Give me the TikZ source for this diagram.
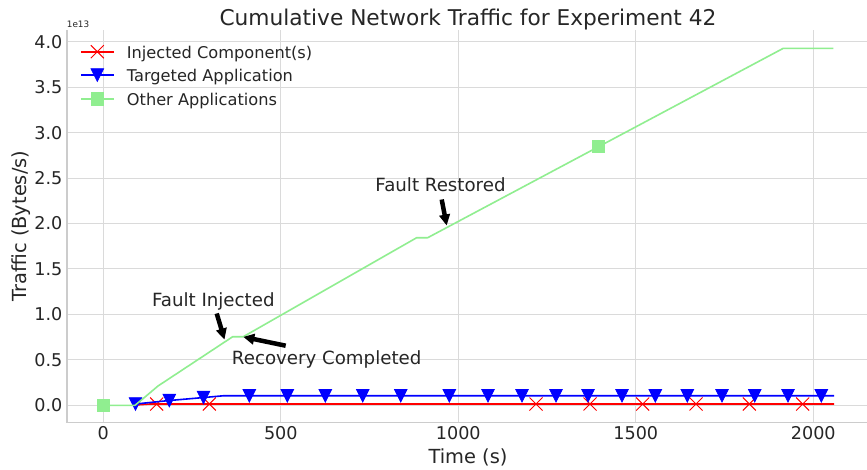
\documentclass[tikz,border=0pt]{standalone}
\usepackage{fontspec}
\setmainfont{DejaVu Sans}
\usetikzlibrary{arrows.meta}
\definecolor{txt}{HTML}{262626}
\definecolor{gridc}{HTML}{DADADA}
\definecolor{spinec}{HTML}{CCCCCC}
\definecolor{lgreen}{HTML}{90EE90}
\tikzset{
  gridline/.style={draw=gridc, line width=1pt},
  spineline/.style={draw=spinec, line width=1.3pt},
  ticklab/.style={text=txt, inner sep=0pt, font=\fontsize{17.6}{20}\selectfont},
  leglab/.style={text=txt, inner sep=0pt, anchor=base west, font=\fontsize{16.2}{19}\selectfont},
  annlab/.style={text=txt, inner sep=0pt, anchor=base, font=\fontsize{18.2}{21}\selectfont},
  axlab/.style={text=txt, inner sep=0pt, anchor=base, font=\fontsize{19.4}{23}\selectfont},
  titlelab/.style={text=txt, inner sep=0pt, anchor=base, font=\fontsize{21.7}{26}\selectfont},
  redline/.style={draw=red, line width=1.6pt, line join=round},
  blueline/.style={draw=blue, line width=1.6pt, line join=round},
  greenline/.style={draw=lgreen, line width=1.6pt, line join=round},
  annarrow/.style={draw=black, line width=4.5pt, -{Triangle[length=11pt,width=10.5pt]}},
  trimark/.pic={\filldraw[blue, line width=0.8pt, line join=miter] (-6.3,-6.3) -- (6.3,-6.3) -- (0,6.3) -- cycle;},
  xmark/.pic={\draw[red, line width=1pt] (-6.5,-6.5) -- (6.5,6.5) (-6.5,6.5) -- (6.5,-6.5);},
  sqmark/.pic={\filldraw[draw=lgreen, fill=lgreen, line width=0.8pt] (-6.2,-6.2) rectangle (6.2,6.2);}
}
\begin{document}
\begin{tikzpicture}[x=1pt,y=-1pt]
\useasboundingbox (0,0) rectangle (867,469);
\fill[white] (0,0) rectangle (867,469);
% grid
\foreach \gx in {103.3,280.8,458.3,635.8,813.3}
  \draw[gridline] (\gx,30) -- (\gx,422.3);
\foreach \gy in {405.3,359.85,314.4,268.95,223.5,178.05,132.6,87.15,41.7}
  \draw[gridline] (67,\gy) -- (867,\gy);
% spines
\draw[spineline] (67,30) -- (67,422.3) -- (867,422.3);
% y tick labels
\foreach \lab/\gy [count=\i] in {0.0/405.3,0.5/359.85,1.0/314.4,1.5/268.95,2.0/223.5,2.5/178.05,3.0/132.6,3.5/87.15,4.0/41.7}
  \node[ticklab, anchor=east] (yt\i) at (62.5,\gy) {\lab};
% x tick labels
\foreach \lab/\gx [count=\i] in {0/103.3,500/280.8,1000/458.3,1500/635.8,2000/813.3}
  \node[ticklab, anchor=north] (xt\i) at (\gx,426.7) {\lab};
% offset text
\node[text=txt, inner sep=0pt, anchor=base west, font=\fontsize{8.85}{10}\selectfont] (offs) at (66.7,27.3) {1e13};
% title and labels
\node[titlelab] (title) at (468,25) {Cumulative Network Traffic for Experiment 42};
\node[axlab] (xlabel) at (468,463) {Time (s)};
\node[axlab, rotate=90] (ylabel) at (26,226) {Traffic (Bytes/s)};
% red series
\draw[redline] (135.5,405) -- (150,404) -- (834,404);
\foreach \mx in {156.7,209.3,536,590,642.7,696,749.3,802.7}
  \pic at (\mx,404) {xmark};
% blue series
\draw[blueline] (135.5,404) -- (169.3,400.5) -- (204,397.5) -- (224,395.7) -- (834,395.7);
\pic at (135.5,404) {trimark};
\pic at (169.3,400.5) {trimark};
\pic at (203.5,397.5) {trimark};
\foreach \mx in {249.3,287.3,325.3,362.7,400.7,449.3,488,522,556,588,622,655.3,687.3,722,754.7,788,821.3}
  \pic at (\mx,395.7) {trimark};
% green series
\draw[greenline] (103.3,405.3) -- (135,405.3) -- (145,397) -- (158,386) -- (232.7,336.7) -- (243.3,336.7) -- (416.7,237.7) -- (427.7,237.7) -- (783.3,48.3) -- (833.3,48.3);
\pic at (103.3,405.3) {sqmark};
\pic at (598.3,146.3) {sqmark};
% legend
\draw[redline] (81,51.7) -- (114,51.7);
\pic at (97.3,51.7) {xmark};
\node[leglab] (leg1) at (126.7,58.3) {Injected Component(s)};
\draw[blueline] (81,75) -- (114,75);
\pic at (97.3,75) {trimark};
\node[leglab] (leg2) at (126.7,81.5) {Targeted Application};
\draw[greenline] (81,99) -- (114,99);
\pic at (97.3,99) {sqmark};
\node[leglab] (leg3) at (126.7,105.3) {Other Applications};
% annotations
\node[annlab] (finj) at (213.3,306) {Fault Injected};
\node[annlab] (frec) at (326.7,364) {Recovery Completed};
\node[annlab] (fres) at (440.5,191.7) {Fault Restored};
\coordinate (finjT) at (216.7,313.5);
\coordinate (finjH) at (224.5,339.5);
\coordinate (frecT) at (285.7,345.7);
\coordinate (frecH) at (243.3,336.9);
\coordinate (fresT) at (441.7,199.5);
\coordinate (fresH) at (446.7,225.5);
\draw[annarrow] (finjT) -- (finjH);
\draw[annarrow] (frecT) -- (frecH);
\draw[annarrow] (fresT) -- (fresH);
\end{tikzpicture}
\end{document}
